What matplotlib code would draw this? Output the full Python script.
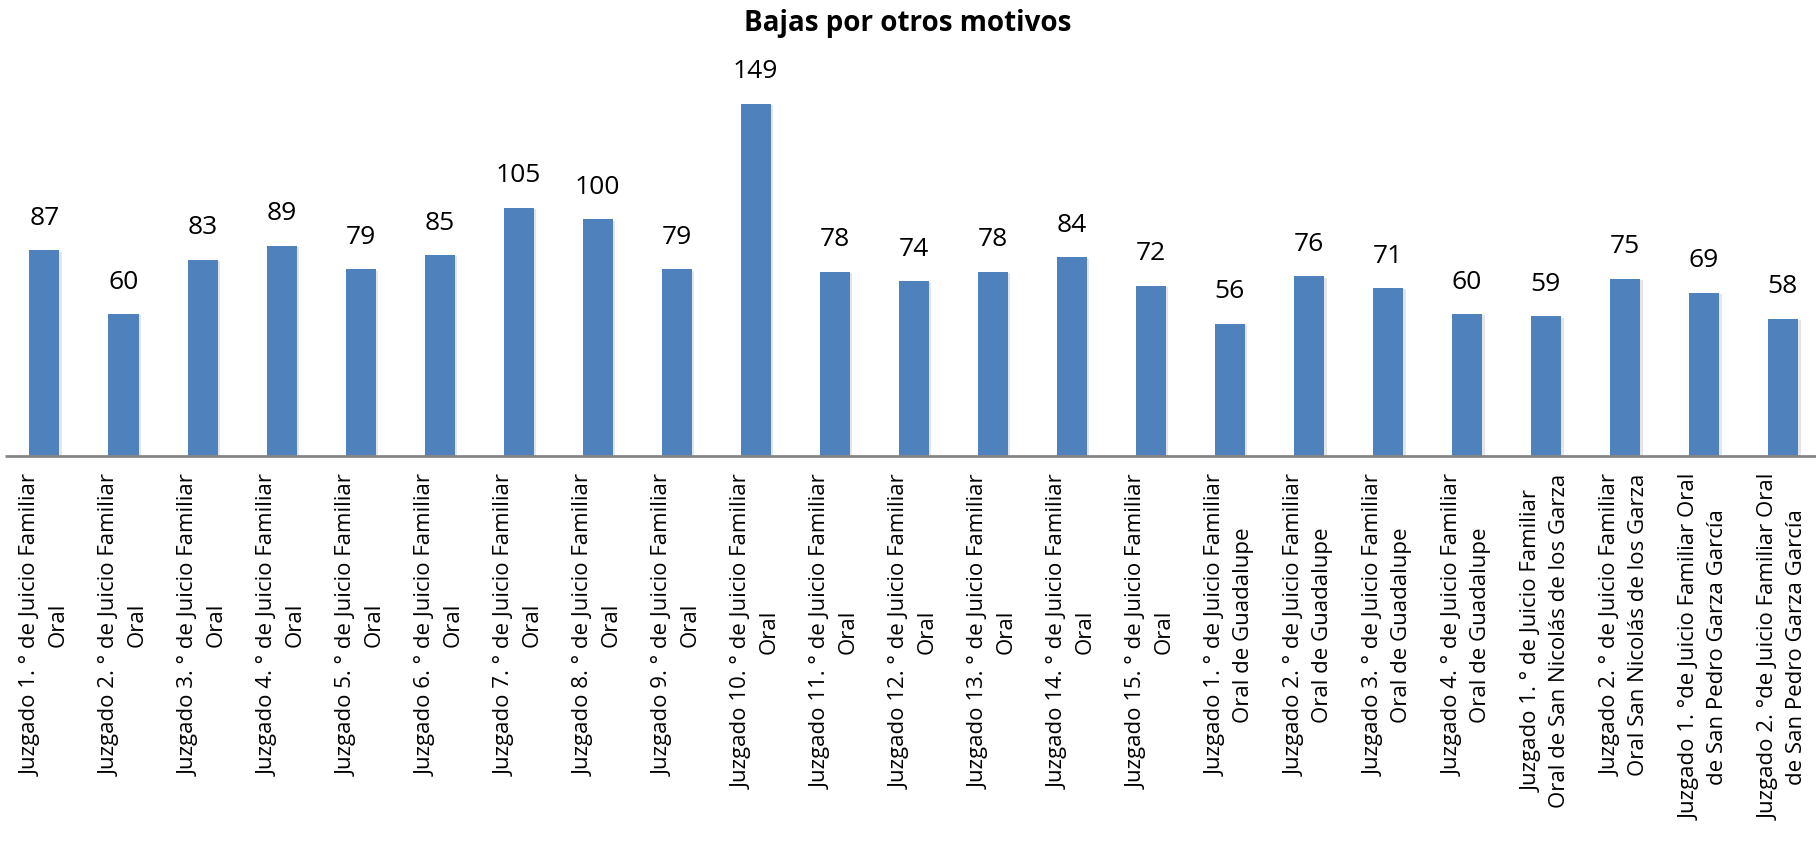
import matplotlib
matplotlib.use("Agg")
import matplotlib.pyplot as plt
import matplotlib.patheffects as pe

# data
labels = [
    "Juzgado 1. ° de Juicio Familiar\nOral",
    "Juzgado 2. ° de Juicio Familiar\nOral",
    "Juzgado 3. ° de Juicio Familiar\nOral",
    "Juzgado 4. ° de Juicio Familiar\nOral",
    "Juzgado 5. ° de Juicio Familiar\nOral",
    "Juzgado 6. ° de Juicio Familiar\nOral",
    "Juzgado 7. ° de Juicio Familiar\nOral",
    "Juzgado 8. ° de Juicio Familiar\nOral",
    "Juzgado 9. ° de Juicio Familiar\nOral",
    "Juzgado 10. ° de Juicio Familiar\nOral",
    "Juzgado 11. ° de Juicio Familiar\nOral",
    "Juzgado 12. ° de Juicio Familiar\nOral",
    "Juzgado 13. ° de Juicio Familiar\nOral",
    "Juzgado 14. ° de Juicio Familiar\nOral",
    "Juzgado 15. ° de Juicio Familiar\nOral",
    "Juzgado 1. ° de Juicio Familiar\nOral de Guadalupe",
    "Juzgado 2. ° de Juicio Familiar\nOral de Guadalupe",
    "Juzgado 3. ° de Juicio Familiar\nOral de Guadalupe",
    "Juzgado 4. ° de Juicio Familiar\nOral de Guadalupe",
    "Juzgado 1. ° de Juicio Familiar\nOral de San Nicolás de los Garza",
    "Juzgado 2. ° de Juicio Familiar\nOral San Nicolás de los Garza",
    "Juzgado 1. °de Juicio Familiar Oral\nde San Pedro Garza García",
    "Juzgado 2. °de Juicio Familiar Oral\nde San Pedro Garza García",
]
values = [87, 60, 83, 89, 79, 85, 105, 100, 79, 149, 78, 74, 78, 84, 72,
          56, 76, 71, 60, 59, 75, 69, 58]

title = "Bajas por otros motivos"
bar_color = "#4F81BD"

plt.rcParams['font.family'] = ['Open Sans', 'DejaVu Sans']

W, H = 1816, 855
fig = plt.figure(figsize=(W / 100, H / 100), dpi=100)
base_px = 456
top_px = 60
ax = fig.add_axes([0, (H - base_px) / H, 1, (base_px - top_px) / H])

x = list(range(len(values)))
bars = ax.bar(x, values, width=0.38, color=bar_color, zorder=3)
for b in bars:
    b.set_path_effects([pe.SimplePatchShadow(offset=(2, -1), alpha=0.25, shadow_rgbFace="#999999"),
                        pe.Normal()])

px_per_unit = 2.365
ax.set_ylim(0, (base_px - top_px) / px_per_unit)
ax.set_xlim(-0.563, 22.42)

ax.hlines(0, -0.5, 22.5, color="#868686", linewidth=2, zorder=4, clip_on=False)

for i, v in enumerate(values):
    ax.annotate(str(v), (i, v), xytext=(0, 14), textcoords="offset points",
                ha="center", va="bottom", fontsize=19)

for s in ax.spines.values():
    s.set_visible(False)
ax.set_xticks([])
ax.set_yticks([])

for i, lab in enumerate(labels):
    ax.annotate(lab, (i, 0), xytext=(0, -13), textcoords="offset points",
                rotation=90, ha="center", va="top", multialignment="center",
                fontsize=16, linespacing=1.4, annotation_clip=False)

fig.text(0.5, 1 - 24 / H, title, ha="center", va="center",
         fontsize=20, fontweight="bold")

fig.savefig("out.png", dpi=100)
